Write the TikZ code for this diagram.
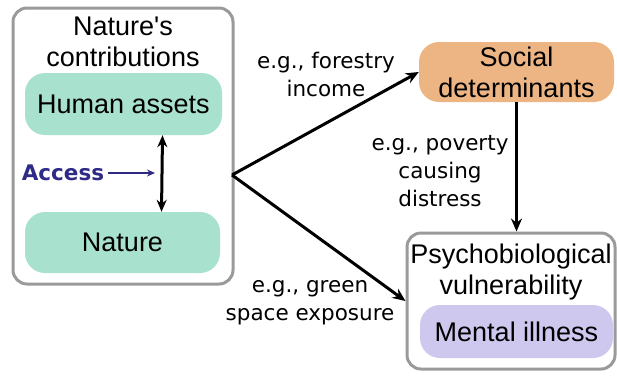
\documentclass[tikz,border=0pt]{standalone}
\usepackage{fontspec}
\setmainfont{Liberation Sans}
\newfontfamily\egfont{DejaVu Sans}
\usetikzlibrary{shapes,arrows.meta}
\definecolor{natgreen}{HTML}{A8E2CE}
\definecolor{socorange}{HTML}{EDB584}
\definecolor{mentpurple}{HTML}{CEC8EE}
\definecolor{boxgray}{HTML}{9A9A9A}
\definecolor{accblue}{HTML}{2E2A86}
\begin{document}
\begin{tikzpicture}[x=1pt,y=-1pt,
  frame/.style={draw=boxgray,line width=3pt,rounded corners=14pt},
  pill/.style={fill=#1,rounded corners=20pt,inner sep=0pt},
  big/.style={font=\fontsize{27}{31}\selectfont,align=center},
  eg/.style={font=\egfont\fontsize{21.5}{28}\selectfont,align=center},
  link/.style={-{Stealth[length=13pt,width=11pt]},line width=3pt}]
\useasboundingbox (0,0) rectangle (617,376);
% left block
\node[frame,minimum width=220,minimum height=276] (ncp) at (123,146) {};
\node[big] (ncptitle) at (123,42) {Nature\textquotesingle s\\contributions};
\node[pill=natgreen,minimum width=197,minimum height=62,big] (human) at (123.5,104) {Human assets};
\node[pill=natgreen,minimum width=195,minimum height=61,big] (nature) at (122.5,242.5) {Nature};
\draw[{Stealth[length=12pt,width=10pt]}-{Stealth[length=12pt,width=10pt]},line width=3pt] ([xshift=39pt]human.south) -- ([xshift=39pt]nature.north);
\node[font=\egfont\bfseries\fontsize{21.5}{26}\selectfont,text=accblue] (access) at (63,173) {Access};
\coordinate (accend) at (155,173);
\draw[-{Stealth[length=8pt,width=7pt]},accblue,line width=1.5pt] (access) -- (accend);
% right blocks
\coordinate (fork) at (232,175);
\node[pill=socorange,minimum width=195,minimum height=60,big] (social) at (516.5,72) {Social\\determinants};
\node[frame,minimum width=208,minimum height=136] (psych) at (511,301) {};
\node[big] (psychtitle) at (511,272.5) {Psychobiological\\vulnerability};
\node[pill=mentpurple,minimum width=193,minimum height=53,big] (mental) at (516.5,331.5) {Mental illness};
\draw[link] (fork) -- (social.west);
\draw[link] (fork) -- (psych.west);
\draw[link] (social.south) -- (social.south |- psych.north);
% pathway labels
\node[eg] (forestry) at (326,74) {e.g., forestry\\income};
\node[eg] (poverty) at (440,171) {e.g., poverty\\causing\\distress};
\node[eg] (green) at (310,303) {e.g., green\\space exposure};
\end{tikzpicture}
\end{document}
